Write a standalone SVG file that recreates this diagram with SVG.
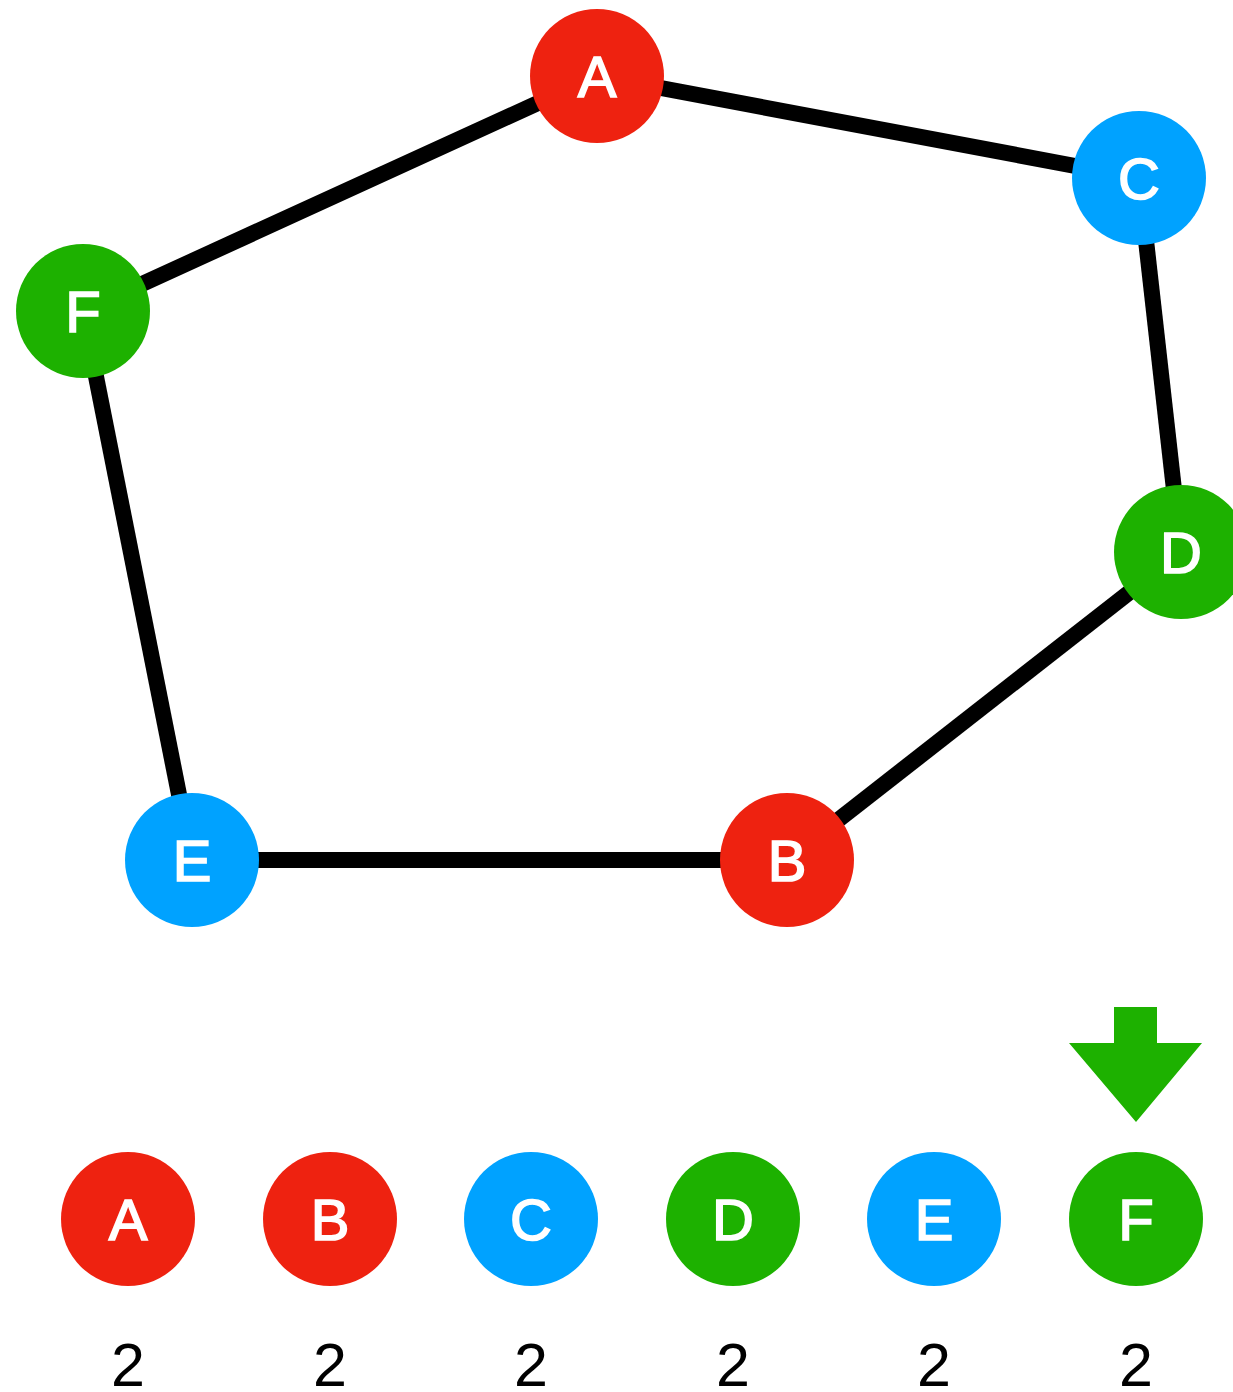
<svg xmlns="http://www.w3.org/2000/svg" width="1233" height="1392" viewBox="0 0 1233 1392">
<style>
.red{fill:#EE2210}.blue{fill:#00A2FF}.green{fill:#1DB100}
.lbl{font-family:"Liberation Sans",Arial,sans-serif;font-size:58px;fill:#fff;stroke:#fff;stroke-width:1.6;text-anchor:middle}
.num{font-family:"Liberation Sans",Arial,sans-serif;font-size:61px;fill:#000;text-anchor:middle}
.edge{stroke:#000;stroke-width:16;fill:none}
</style>
<rect width="1233" height="1392" fill="#fff"/>
<g id="connectors">
<line class="edge" x1="597" y1="76" x2="1139" y2="178"/>
<line class="edge" x1="1139" y1="178" x2="1181" y2="552"/>
<line class="edge" x1="1181" y1="552" x2="787" y2="860"/>
<line class="edge" x1="787" y1="860" x2="192" y2="860"/>
<line class="edge" x1="192" y1="860" x2="83" y2="311"/>
<line class="edge" x1="83" y1="311" x2="597" y2="76"/>
</g>
<g id="node-A"><circle class="red" cx="597" cy="76" r="67"/><text class="lbl" x="597" y="97">A</text></g>
<g id="node-C"><circle class="blue" cx="1139" cy="178" r="67"/><text class="lbl" x="1139" y="199">C</text></g>
<g id="node-F"><circle class="green" cx="83" cy="311" r="67"/><text class="lbl" x="83" y="332">F</text></g>
<g id="node-D"><circle class="green" cx="1181" cy="552" r="67"/><text class="lbl" x="1181" y="573">D</text></g>
<g id="node-E"><circle class="blue" cx="192" cy="860" r="67"/><text class="lbl" x="192" y="881">E</text></g>
<g id="node-B"><circle class="red" cx="787" cy="860" r="67"/><text class="lbl" x="787" y="881">B</text></g>
<g id="arrow"><polygon class="green" points="1114,1007 1157,1007 1157,1043 1202,1043 1136,1122 1069,1043 1114,1043"/></g>
<g id="row-A"><circle class="red" cx="128" cy="1219" r="67"/><text class="lbl" x="128" y="1240">A</text><text class="num" x="128" y="1386">2</text></g>
<g id="row-B"><circle class="red" cx="330" cy="1219" r="67"/><text class="lbl" x="330" y="1240">B</text><text class="num" x="330" y="1386">2</text></g>
<g id="row-C"><circle class="blue" cx="531" cy="1219" r="67"/><text class="lbl" x="531" y="1240">C</text><text class="num" x="531" y="1386">2</text></g>
<g id="row-D"><circle class="green" cx="733" cy="1219" r="67"/><text class="lbl" x="733" y="1240">D</text><text class="num" x="733" y="1386">2</text></g>
<g id="row-E"><circle class="blue" cx="934" cy="1219" r="67"/><text class="lbl" x="934" y="1240">E</text><text class="num" x="934" y="1386">2</text></g>
<g id="row-F"><circle class="green" cx="1136" cy="1219" r="67"/><text class="lbl" x="1136" y="1240">F</text><text class="num" x="1136" y="1386">2</text></g>
</svg>
